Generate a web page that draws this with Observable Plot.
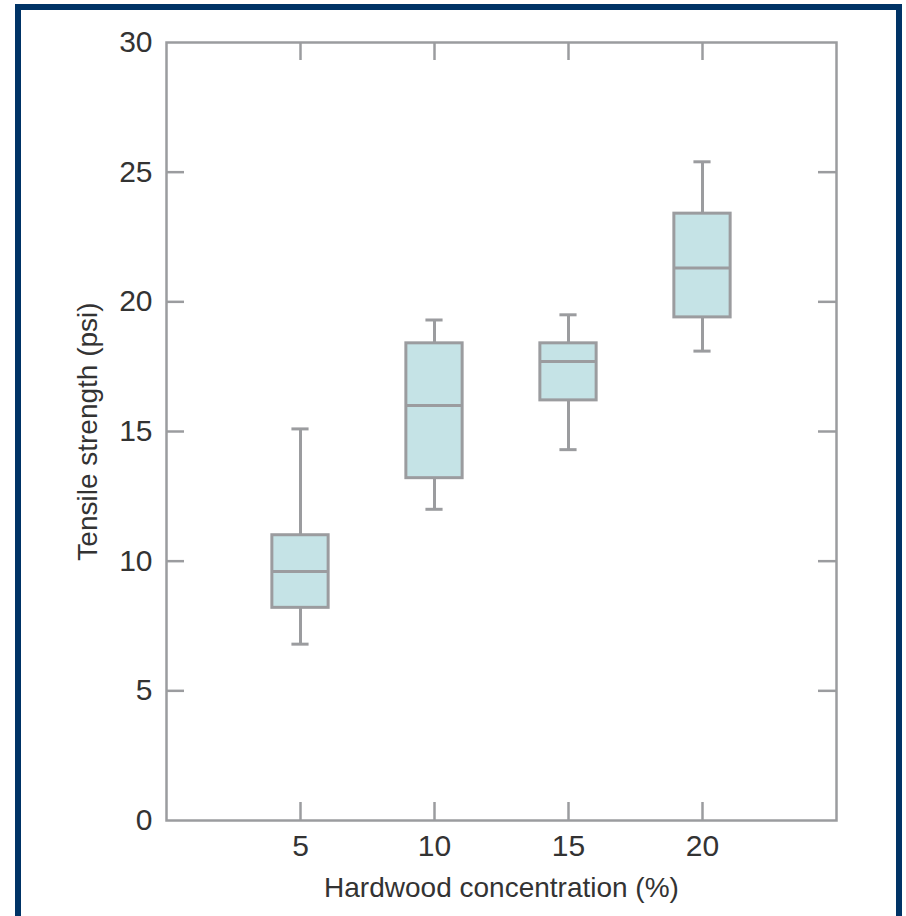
<!DOCTYPE html>
<html>
<head>
<meta charset="utf-8">
<script src="https://cdn.jsdelivr.net/npm/d3@7"></script>
<script src="https://cdn.jsdelivr.net/npm/@observablehq/plot@0.6"></script>
<style>
  html, body { margin: 0; padding: 0; background: #fff; overflow: hidden; }
  #wrap { position: relative; width: 906px; height: 916px; }
  #border { position: absolute; left: 15px; top: 4px; width: 875px; height: 940px; border: 6px solid #003366; box-sizing: content-box; }
  #chart { position: absolute; left: 0; top: 0; }
</style>
</head>
<body>
<div id="wrap"><div id="border"></div><div id="chart"></div></div>
<script>
const categories = [5, 10, 15, 20];
const whiskerLow = [6.8, 12.0, 14.3, 18.1];
const q1 = [8.2, 13.2, 16.2, 19.4];
const median = [9.6, 16.0, 17.7, 21.3];
const q3 = [11.0, 18.4, 18.4, 23.4];
const whiskerHigh = [15.1, 19.3, 19.5, 25.4];
const yTicks = [0, 5, 10, 15, 20, 25, 30];
const xTicks = [5, 10, 15, 20];
const xLabel = "Hardwood concentration (%)";
const yLabel = "Tensile strength (psi)";

const data = categories.map((c, i) => ({
  x: c, low: whiskerLow[i], q1: q1[i], med: median[i], q3: q3[i], high: whiskerHigh[i]
}));

const gray = "#9b9c9f";
const sw = 3;
const boxHalf = 1.05;
const capHalf = 0.32;
const innerW = 906 - 166 - 70;
const innerH = 916 - 42 - 96;
const tickLen = 18;

const chart = Plot.plot({
  width: 906,
  height: 916,
  marginLeft: 166,
  marginRight: 70,
  marginTop: 42,
  marginBottom: 96,
  x: {domain: [0, 25]},
  y: {domain: [0, 30]},
  style: {fontFamily: "'Liberation Sans', Arial, sans-serif", fontSize: "30px", color: "#333", background: "transparent"},
  marks: [
    Plot.ruleX(data, {x: "x", y1: "low", y2: "q1", stroke: gray, strokeWidth: sw}),
    Plot.ruleX(data, {x: "x", y1: "q3", y2: "high", stroke: gray, strokeWidth: sw}),
    Plot.ruleY(data, {y: "low", x1: d => d.x - capHalf, x2: d => d.x + capHalf, stroke: gray, strokeWidth: sw}),
    Plot.ruleY(data, {y: "high", x1: d => d.x - capHalf, x2: d => d.x + capHalf, stroke: gray, strokeWidth: sw}),
    Plot.rect(data, {x1: d => d.x - boxHalf, x2: d => d.x + boxHalf, y1: "q1", y2: "q3", fill: "#c5e3e6", stroke: gray, strokeWidth: sw}),
    Plot.ruleY(data, {y: "med", x1: d => d.x - boxHalf, x2: d => d.x + boxHalf, stroke: gray, strokeWidth: sw}),
    Plot.tickY(yTicks.slice(1, -1), {y: d => d, insetRight: innerW - tickLen, stroke: gray, strokeWidth: 2.5}),
    Plot.tickY(yTicks.slice(1, -1), {y: d => d, insetLeft: innerW - tickLen, stroke: gray, strokeWidth: 2.5}),
    Plot.tickX(xTicks, {x: d => d, insetTop: innerH - tickLen, stroke: gray, strokeWidth: 2.5}),
    Plot.tickX(xTicks, {x: d => d, insetBottom: innerH - tickLen, stroke: gray, strokeWidth: 2.5}),
    Plot.frame({stroke: gray, strokeWidth: 2.5}),
    Plot.axisY({ticks: yTicks, tickSize: 0, tickPadding: 14, label: null, fill: "#333"}),
    Plot.axisX({ticks: xTicks, tickSize: 0, tickPadding: 14, label: null, fill: "#333"}),
    Plot.text([xLabel], {text: d => d, frameAnchor: "bottom", textAnchor: "middle", lineAnchor: "bottom", dy: 76, fontSize: 28, fill: "#333"}),
    Plot.text([yLabel], {text: d => d, frameAnchor: "left", textAnchor: "middle", lineAnchor: "middle", dx: -78, rotate: -90, fontSize: 28, fill: "#333"})
  ]
});
document.getElementById("chart").appendChild(chart);
</script>
</body>
</html>
